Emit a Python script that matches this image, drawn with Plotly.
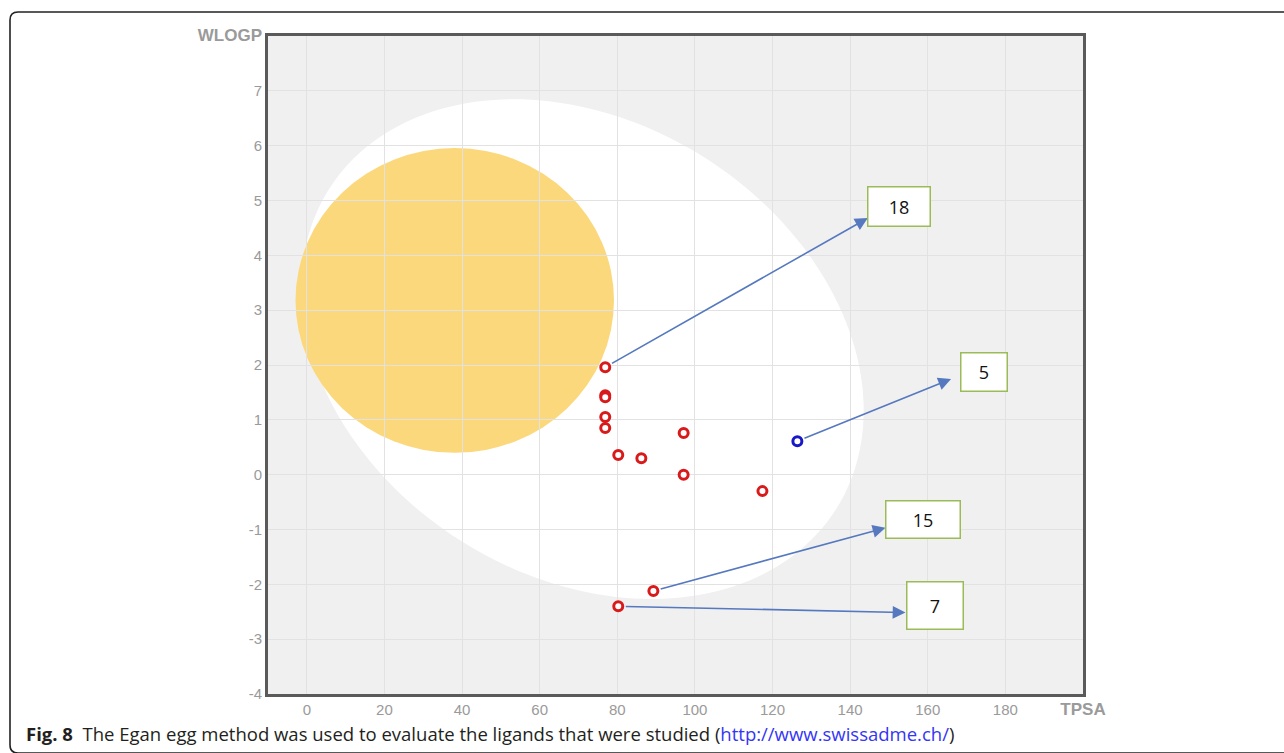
import numpy as np
import plotly.graph_objects as go

# Ligand descriptors: TPSA (x) and WLOGP (y)
tpsa_red = [76.9, 76.9, 76.9, 76.9, 76.9, 80.25, 86.2, 97.1, 97.1, 117.4, 89.3, 80.25]
wlogp_red = [1.96, 1.45, 1.41, 1.05, 0.85, 0.36, 0.30, 0.76, 0.0, -0.30, -2.12, -2.40]
tpsa_blue = [126.4]
wlogp_blue = [0.61]

# Labelled ligands: id, descriptor pair of the marker the arrow starts from
label_ids = ["18", "5", "15", "7"]
label_tpsa = [tpsa_red[0], tpsa_blue[0], tpsa_red[10], tpsa_red[11]]
label_wlogp = [wlogp_red[0], wlogp_blue[0], wlogp_red[10], wlogp_red[11]]

# Axis ticks; the last tick of each axis carries the axis name
NAME = "<span style='font-size:17px'><b>{}</b></span>"
x_ticks = [0, 20, 40, 60, 80, 100, 120, 140, 160, 180, 200]
x_ticktext = ["0", "20", "40", "60", "80", "100", "120", "140", "160", "180", NAME.format("TPSA")]
y_ticks = [-4, -3, -2, -1, 0, 1, 2, 3, 4, 5, 6, 7, 8]
y_ticktext = ["-4", "-3", "-2", "-1", "0", "1", "2", "3", "4", "5", "6", "7", NAME.format("WLOGP")]

# Egg regions (data units)
white_center = (71.05, 2.29)
white_axis_major = (65.35, -2.915)
white_axis_minor = (-31.25, -3.502)
yolk_center = (38.117, 3.177)
yolk_width = 82.061
yolk_height = 5.557

# Label box placement (data units) and size (px)
box_x = [152.6, 174.5, 158.8, 161.9]
box_y = [4.89, 1.88, -0.81, -2.38]
box_w = [61, 45, 73, 55]
box_h = [38, 37, 36, 46]
tip_x = [144.55, 166.0, 149.1, 154.26]
tip_y = [4.68, 1.745, -0.97, -2.515]

W, H = 1284, 753
ML, MR, MT, MB = 268, 201, 36, 59
PW, PH = W - ML - MR, H - MT - MB


def px_x(px):
    return (px - ML) / PW


def px_y(py):
    return (H - MB - py) / PH


fig = go.Figure()

# white of the egg
t = np.linspace(0, 2 * np.pi, 181)
ex = white_center[0] + np.cos(t) * white_axis_major[0] + np.sin(t) * white_axis_minor[0]
ey = white_center[1] + np.cos(t) * white_axis_major[1] + np.sin(t) * white_axis_minor[1]
white_path = "M " + " L ".join(f"{a:.3f},{b:.4f}" for a, b in zip(ex, ey)) + " Z"
fig.add_shape(type="path", path=white_path, xref="x", yref="y",
              fillcolor="white", line=dict(width=0), layer="below")

# yolk
fig.add_shape(type="circle", xref="x", yref="y",
              x0=yolk_center[0] - yolk_width / 2, x1=yolk_center[0] + yolk_width / 2,
              y0=yolk_center[1] - yolk_height / 2, y1=yolk_center[1] + yolk_height / 2,
              fillcolor="#FCD87C", line=dict(width=0), layer="below")

fig.add_trace(go.Scatter(
    x=tpsa_red, y=wlogp_red, mode="markers",
    marker=dict(symbol="circle", size=9, color="white",
                line=dict(color="#D91A1A", width=3)),
    hoverinfo="x+y"))
fig.add_trace(go.Scatter(
    x=tpsa_blue, y=wlogp_blue, mode="markers",
    marker=dict(symbol="circle", size=9, color="white",
                line=dict(color="#1818C8", width=3)),
    hoverinfo="x+y"))

# arrows from ligands to their label boxes
for i in range(len(label_ids)):
    fig.add_annotation(
        x=tip_x[i], y=tip_y[i], ax=label_tpsa[i], ay=label_wlogp[i],
        xref="x", yref="y", axref="x", ayref="y", text="",
        showarrow=True, arrowhead=2, arrowsize=1.6, arrowwidth=1.6,
        arrowcolor="#5578BE", startstandoff=6)
    fig.add_annotation(
        x=box_x[i], y=box_y[i], xref="x", yref="y", text=label_ids[i],
        showarrow=False, width=box_w[i], height=box_h[i],
        bgcolor="white", bordercolor="#9BBB59", borderwidth=1.5, borderpad=0,
        font=dict(family="Open Sans", size=18, color="#111111"))

# caption
fig.add_annotation(
    x=px_x(24), y=px_y(734), xref="paper", yref="paper",
    xanchor="left", yanchor="middle", showarrow=False,
    text=("<b>Fig. 8</b>&nbsp;&nbsp;The Egan egg method was used to evaluate the ligands "
          "that were studied (<span style='color:#3535F5'>http://www.swissadme.ch/</span>)"),
    font=dict(family="Open Sans", size=18.5, color="#231F20"))

# outer frame with rounded corners
r = 8
frame = (f"M {px_x(1300)},{px_y(12)} L {px_x(10 + r)},{px_y(12)} "
         f"Q {px_x(10)},{px_y(12)} {px_x(10)},{px_y(12 + r)} "
         f"L {px_x(10)},{px_y(753 - r)} Q {px_x(10)},{px_y(753)} {px_x(10 + r)},{px_y(753)} "
         f"L {px_x(1300)},{px_y(753)}")
fig.add_shape(type="path", path=frame, xref="paper", yref="paper",
              line=dict(color="#222222", width=1.6))

axis_common = dict(showgrid=True, gridcolor="#E2E2E2", gridwidth=1,
                   zeroline=False, showline=True, linecolor="#5A5A5A", linewidth=3,
                   mirror=True, ticks="",
                   tickfont=dict(family="Liberation Sans", size=15, color="#9A9A9A"))

fig.update_layout(
    width=W, height=H, autosize=False,
    margin=dict(l=ML, r=MR, t=MT, b=MB),
    paper_bgcolor="white", plot_bgcolor="#F0F0F0",
    showlegend=False,
    xaxis=dict(range=[-10, 200], tickvals=x_ticks, ticktext=x_ticktext, **axis_common),
    yaxis=dict(range=[-4, 8], tickvals=y_ticks, ticktext=y_ticktext, **axis_common),
)

fig.write_html("out.html")
